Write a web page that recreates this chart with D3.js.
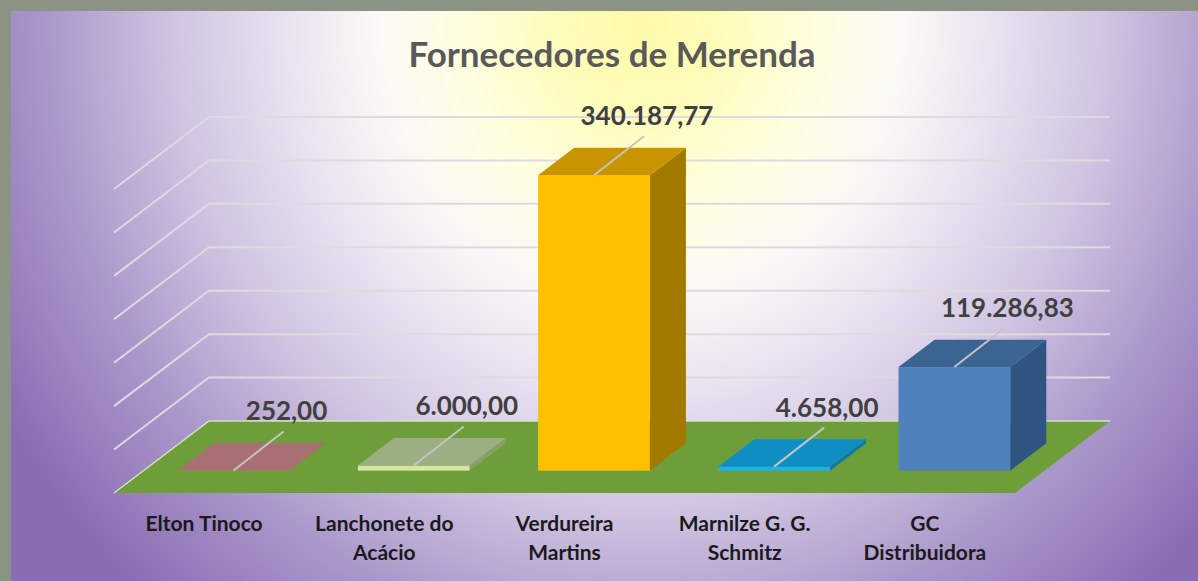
<!DOCTYPE html>
<html>
<head>
<meta charset="utf-8">
<script src="https://cdn.jsdelivr.net/npm/d3@7"></script>
<style>
  html, body { margin: 0; padding: 0; background: #8a9384; }
  svg { display: block; }
</style>
</head>
<body>
<div id="chart"></div>
<script>
// Chart data
var categories = ["Elton Tinoco", "Lanchonete do Acácio", "Verdureira Martins", "Marnilze G. G. Schmitz", "GC Distribuidora"];
var tickLabels = [["Elton Tinoco"], ["Lanchonete do", "Acácio"], ["Verdureira", "Martins"], ["Marnilze G. G.", "Schmitz"], ["GC", "Distribuidora"]];
var values = [252.00, 6000.00, 340187.77, 4658.00, 119286.83];
var valueLabels = ["252,00", "6.000,00", "340.187,77", "4.658,00", "119.286,83"];
var gridTicks = [50000, 100000, 150000, 200000, 250000, 300000, 350000];

// bar colours: front, top, side
var barColors = [
  ["#c07a78", "#a87072", "#9a6060"],
  ["#d6e4a6", "#9caf82", "#8a9e6c"],
  ["#ffc000", "#c89500", "#a27a00"],
  ["#1ab2ea", "#0e8ec2", "#0b78a6"],
  ["#4f81bd", "#3b6493", "#2f5482"]
];

var W = 1198, H = 581;
var depthX = 95, depthY = -72;   // oblique depth offset of the floor
var d0 = 0.31, d1 = 0.69;        // bar depth inside the floor

var svg = d3.select("#chart").append("svg")
  .attr("width", W)
  .attr("height", H);

var defs = svg.append("defs");
var bg = defs.append("radialGradient")
  .attr("id", "bg")
  .attr("gradientUnits", "userSpaceOnUse")
  .attr("cx", 640).attr("cy", 20).attr("r", 740)
  .attr("gradientTransform", "translate(640,20) scale(1,1.05) translate(-640,-20)");
[[0, "#fffaa8"], [0.12, "#fffcbc"], [0.25, "#fffee2"], [0.36, "#faf8f6"], [0.48, "#e9e2f0"], [0.63, "#d0c4e1"], [0.8, "#ab98cb"], [1, "#8a6cb2"]]
  .forEach(function(s) {
    bg.append("stop").attr("offset", s[0]).attr("stop-color", s[1]);
  });

// stone frame + slide background
svg.append("rect").attr("width", W).attr("height", H).attr("fill", "#8a9384");
svg.append("rect")
  .attr("x", 11).attr("y", 11)
  .attr("width", W - 11).attr("height", H - 11)
  .attr("fill", "url(#bg)");

// scales
var x = d3.scaleBand()
  .domain(categories)
  .range([114, 1015])
  .padding(0);

var y = d3.scaleLinear()
  .domain([0, 350000])
  .range([493, 189]);

var x0 = x.range()[0], x1 = x.range()[1];

function proj(px, v, d) {
  return [px + d * depthX, y(v) + d * depthY];
}

// floor
var floorPts = [proj(x0, 0, 0), proj(x1, 0, 0), proj(x1, 0, 1), proj(x0, 0, 1)];
svg.append("polygon")
  .attr("points", floorPts.map(p => p.join(",")).join(" "))
  .attr("fill", "#6e9e3a");

svg.append("polyline")
  .attr("points", [proj(x0, 0, 0), proj(x0, 0, 1), proj(x1, 0, 1)].map(p => p.join(",")).join(" "))
  .attr("fill", "none")
  .attr("stroke", "#d6e0c8")
  .attr("stroke-width", 1.5);

// gridlines on back and side wall
var grid = svg.append("g").attr("class", "grid");
gridTicks.forEach(function(t) {
  var a = proj(x0, t, 0), b = proj(x0, t, 1), c = proj(x1, t, 1);
  grid.append("polyline")
    .attr("points", [a, b, c].map(p => p.join(",")).join(" "))
    .attr("fill", "none")
    .attr("stroke", "#dedae0")
    .attr("stroke-width", 2);
});

// bars
var barW = x.bandwidth() * 0.62;

var bars = svg.selectAll(".bar")
  .data(values)
  .enter()
  .append("g")
  .attr("class", "bar");

bars.each(function(v, i) {
  var g = d3.select(this);
  var cx = x(categories[i]) + x.bandwidth() / 2;
  var xl = cx - barW / 2, xr = cx + barW / 2;
  var col = barColors[i];

  var side = [proj(xr, 0, d0), proj(xr, v, d0), proj(xr, v, d1), proj(xr, 0, d1)];
  var top = [proj(xl, v, d0), proj(xr, v, d0), proj(xr, v, d1), proj(xl, v, d1)];
  var fl = proj(xl, v, d0), fr = proj(xr, 0, d0);

  g.append("polygon")
    .attr("points", side.map(p => p.join(",")).join(" "))
    .attr("fill", col[2]);
  g.append("rect")
    .attr("x", fl[0]).attr("y", fl[1])
    .attr("width", fr[0] - fl[0])
    .attr("height", Math.max(fr[1] - fl[1], 0.5))
    .attr("fill", col[0]);
  g.append("polygon")
    .attr("points", top.map(p => p.join(",")).join(" "))
    .attr("fill", col[1]);
});

// data labels with leader lines
bars.each(function(v, i) {
  var g = d3.select(this);
  var cx = x(categories[i]) + x.bandwidth() / 2;
  var p = proj(cx, v, d0);
  g.append("line")
    .attr("x1", p[0]).attr("y1", p[1])
    .attr("x2", p[0] + 50).attr("y2", p[1] - 39)
    .attr("stroke", "#c4c4c4")
    .attr("stroke-width", 2);
  g.append("text")
    .attr("x", p[0] + 53)
    .attr("y", p[1] - 50)
    .attr("text-anchor", "middle")
    .attr("font-family", "Lato, 'Open Sans', sans-serif")
    .attr("font-weight", "bold")
    .attr("font-size", 26)
    .attr("fill", "#404040")
    .text(valueLabels[i]);
});

// category labels
var cat = svg.append("g").attr("class", "cats");
categories.forEach(function(c, i) {
  var cx = x(c) + x.bandwidth() / 2;
  var t = cat.append("text")
    .attr("x", cx)
    .attr("y", 531)
    .attr("text-anchor", "middle")
    .attr("font-family", "Lato, 'Open Sans', sans-serif")
    .attr("font-weight", "bold")
    .attr("font-size", 21)
    .attr("fill", "#1a1a1a");
  tickLabels[i].forEach(function(line, k) {
    t.append("tspan")
      .attr("x", cx)
      .attr("dy", k == 0 ? 0 : 29)
      .text(line);
  });
});

// title
svg.append("text")
  .attr("x", 612)
  .attr("y", 67)
  .attr("text-anchor", "middle")
  .attr("font-family", "Lato, 'Open Sans', sans-serif")
  .attr("font-weight", "bold")
  .attr("font-size", 35)
  .attr("fill", "#595959")
  .text("Fornecedores de Merenda");
</script>
</body>
</html>
